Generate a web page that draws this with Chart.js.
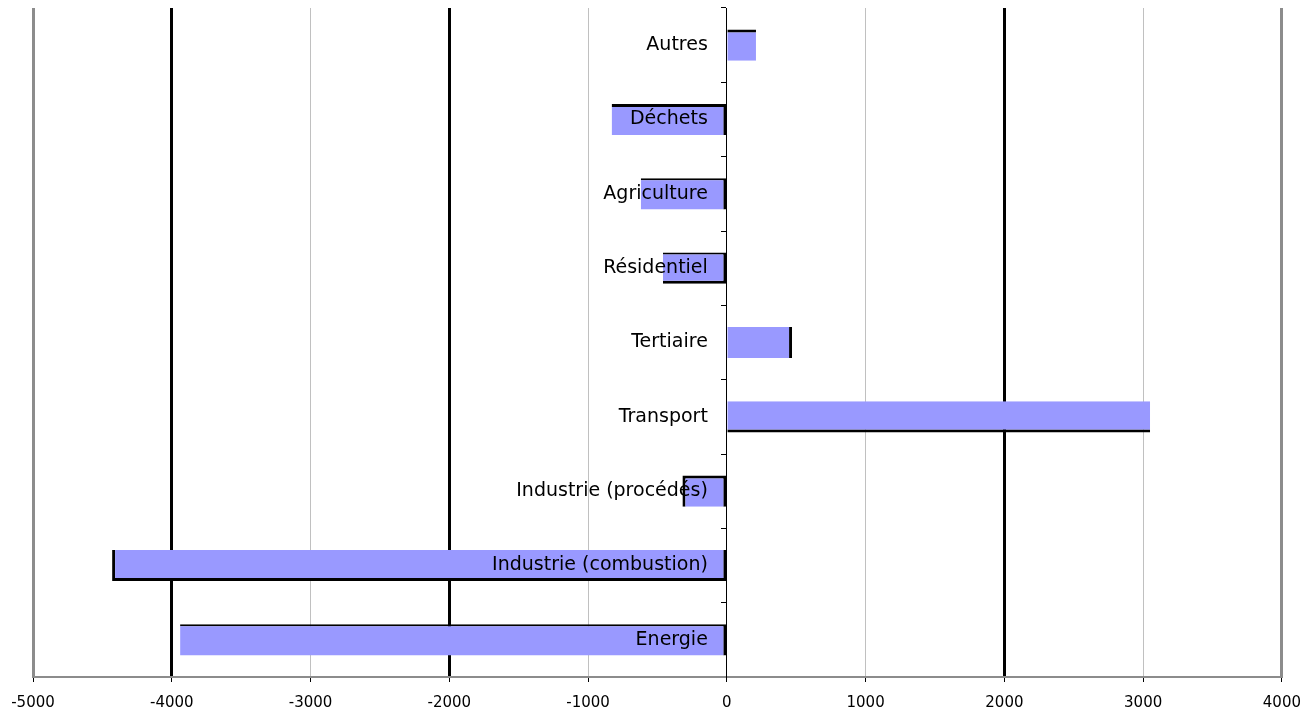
<!DOCTYPE html>
<html>
<head>
<meta charset="utf-8">
<script src="https://cdn.jsdelivr.net/npm/chart.js@4"></script>
<style>
  body { margin: 0; background: #fff; }
</style>
</head>
<body>
<canvas id="myChart" width="1301" height="714"></canvas>
<script>
const ctx = document.getElementById('myChart');

const categories = ['Autres', 'Déchets', 'Agriculture', 'Résidentiel', 'Tertiaire', 'Transport',
  'Industrie (procédés)', 'Industrie (combustion)', 'Energie']
const values = [210, -830, -620, -460, 470, 3050, -320, -4430, -3940]
const xMin = -5000
const xMax = 4000
const xStep = 1000

// which edges of each bar get the dark outline
const edges = [
  { top: 3 },
  { top: 3, right: 3 },
  { top: 2, right: 3 },
  { top: 2, right: 3, bottom: 3 },
  { right: 3 },
  { bottom: 3 },
  { top: 3, left: 3, right: 3 },
  { left: 3, right: 3, bottom: 3 },
  { top: 2, right: 3 }
]

function gridColor(v) {
  if (v === -4000 || v === -2000 || v === 2000 || v === 0) return '#000'
  if (v === xMin || v === xMax) return '#8c8c8c'
  return '#c0c0c0'
}
function gridWidth(v) {
  if (v === -4000 || v === -2000 || v === 2000) return 3
  if (v === xMin || v === xMax) return 3
  return 1
}

const mychart = new Chart(ctx, {
  type: 'bar',
  data: {
    labels: categories,
    datasets: [{
      data: values,
      backgroundColor: '#9999ff',
      borderColor: '#000',
      borderWidth: (c) => edges[c.dataIndex],
      borderSkipped: false,
      categoryPercentage: 1,
      barPercentage: 0.42
    }]
  },
  options: {
    indexAxis: 'y',
    responsive: false,
    animation: false,
    layout: { padding: { left: 33, right: 16, top: 0, bottom: 3 } },
    plugins: { legend: { display: false }, tooltip: { enabled: false } },
    scales: {
      x: {
        min: xMin,
        max: xMax,
        ticks: {
          stepSize: xStep,
          color: '#000',
          padding: 0,
          font: { family: 'DejaVu Sans', size: 15, lineHeight: 1 },
          callback: (v) => String(v)
        },
        grid: {
          color: (c) => gridColor(c.tick.value),
          lineWidth: (c) => gridWidth(c.tick.value),
          tickColor: '#000',
          tickWidth: 1,
          tickLength: 19,
          tickBorderDash: [4, 40]  // only a short stub under the axis
        },
        border: { color: '#8c8c8c', width: 2 }
      },
      y: {
        position: { x: 0 },
        ticks: {
          z: 1,
          color: '#000',
          padding: -3.4,
          font: { family: 'DejaVu Sans', size: 19 },
          // labels sit right against the zero line, so pad them with an em space
          callback: function (v) { return this.getLabelForValue(v) + '\u2003' }
        },
        grid: {
          offset: true,
          drawOnChartArea: false,
          tickColor: '#000',
          tickLength: 5,
          lineWidth: 1
        },
        border: { color: '#000', width: 1, z: 1 }
      }
    }
  }
});
</script>
</body>
</html>
